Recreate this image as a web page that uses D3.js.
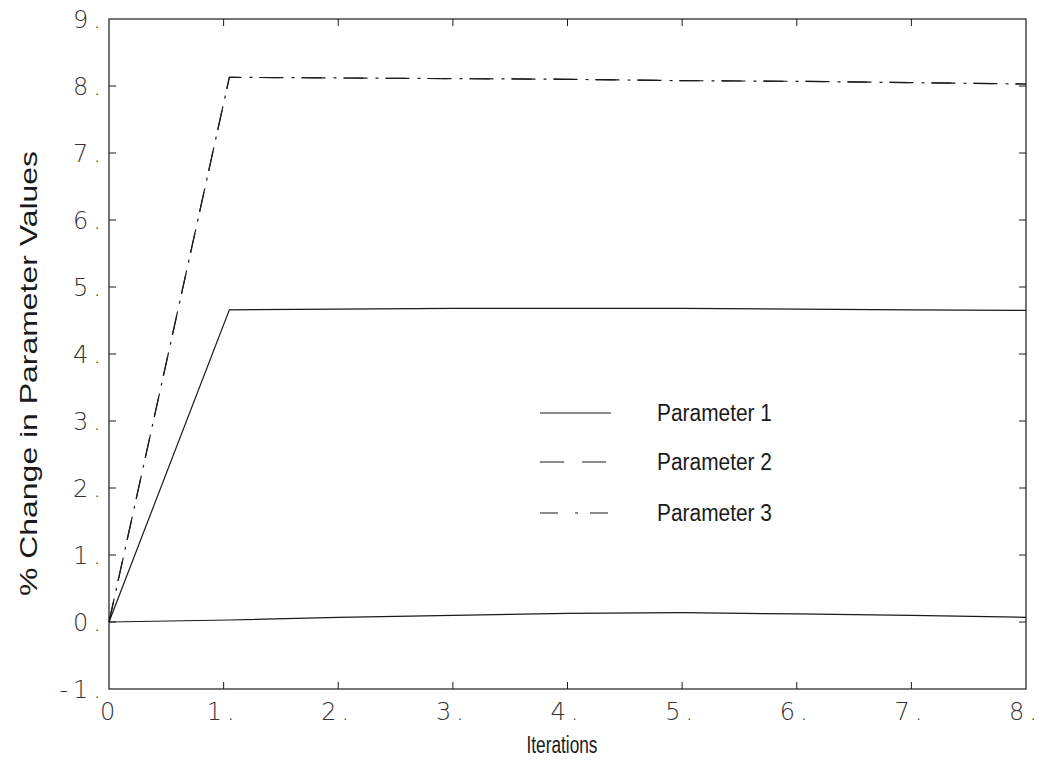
<!DOCTYPE html>
<html><head><meta charset="utf-8">
<script src="https://cdn.jsdelivr.net/npm/d3@7"></script>
<style>body{margin:0;background:#fff}</style>
</head><body>
<svg id="chart" width="1040" height="760"></svg>
<script>
// ---- data ----
const iterations = [0, 1.05, 2, 3, 4, 5, 6, 7, 8];
const param1 = [0, 4.66, 4.67, 4.68, 4.68, 4.68, 4.67, 4.66, 4.65];
const param2 = [0, 8.13, 8.12, 8.11, 8.10, 8.08, 8.07, 8.05, 8.03];
const param3 = [0, 8.13, 8.12, 8.11, 8.10, 8.08, 8.07, 8.05, 8.03];
const baseline = [0, 0.03, 0.07, 0.10, 0.13, 0.14, 0.12, 0.10, 0.07];
const xTicks = [0, 1, 2, 3, 4, 5, 6, 7, 8];
const yTicks = [-1, 0, 1, 2, 3, 4, 5, 6, 7, 8, 9];
const xTickLabels = ["0", "1.", "2.", "3.", "4.", "5.", "6.", "7.", "8."];
const yTickLabels = ["-1.", "0.", "1.", "2.", "3.", "4.", "5.", "6.", "7.", "8.", "9."];
const legendNames = ["Parameter 1", "Parameter 2", "Parameter 3"];

// ---- layout ----
const svg = d3.select("#chart");
const L = 109, R = 1026, T = 19, B = 689;
const x = d3.scaleLinear().domain([0, 8]).range([L, R]);
const y = d3.scaleLinear().domain([-1, 9]).range([B, T]);
const ink = "#1a1a1a";
const tickFont = "'DejaVu Sans', sans-serif";
const textFont = "'Liberation Sans Narrow', 'Liberation Sans', Arial, sans-serif";

// frame
svg.append("rect").attr("x", L).attr("y", T).attr("width", R - L).attr("height", B - T)
  .attr("fill", "none").attr("stroke", ink).attr("stroke-width", 1.2);

// ticks (inward)
const tl = 7;
const gx = svg.append("g");
xTicks.slice(1, -1).forEach(v => {
  gx.append("line").attr("x1", x(v)).attr("x2", x(v)).attr("y1", B).attr("y2", B - tl).attr("stroke", ink).attr("stroke-width", 1);
  gx.append("line").attr("x1", x(v)).attr("x2", x(v)).attr("y1", T).attr("y2", T + tl).attr("stroke", ink).attr("stroke-width", 1);
});
yTicks.slice(1, -1).forEach(v => {
  gx.append("line").attr("x1", L).attr("x2", L + tl).attr("y1", y(v)).attr("y2", y(v)).attr("stroke", ink).attr("stroke-width", 1);
  gx.append("line").attr("x1", R).attr("x2", R - tl).attr("y1", y(v)).attr("y2", y(v)).attr("stroke", ink).attr("stroke-width", 1);
});

// label helper: digits, then the trailing dot spaced apart
function spacedLabel(sel, label) {
  const hasDot = label.endsWith(".");
  const body = hasDot ? label.slice(0, -1) : label;
  sel.append("tspan").attr("letter-spacing", 5).text(body.slice(0, -1));
  sel.append("tspan").text(body.slice(-1));
  if (hasDot) sel.append("tspan").attr("dx", 5).text(".");
}

// y tick labels
svg.append("g").selectAll("text").data(yTicks).join("text")
  .attr("x", L - 8).attr("y", d => y(d) + 9)
  .attr("text-anchor", "end")
  .attr("font-family", tickFont).attr("font-weight", 200).attr("font-size", 24).attr("fill", "#333")
  .each(function (d, i) { spacedLabel(d3.select(this), yTickLabels[i]); });

// x tick labels
svg.append("g").selectAll("text").data(xTicks).join("text")
  .attr("x", (d, i) => i === 0 ? x(d) - 9 : x(d) - 17)
  .attr("y", B + 31)
  .attr("text-anchor", "start")
  .attr("font-family", tickFont).attr("font-weight", 200).attr("font-size", 24).attr("fill", "#333")
  .each(function (d, i) { spacedLabel(d3.select(this), xTickLabels[i]); });

// axis titles
svg.append("text").attr("transform", `translate(37, ${(150 + 597) / 2}) rotate(-90)`)
  .attr("text-anchor", "middle").attr("font-family", textFont).attr("font-size", 24).attr("fill", ink)
  .attr("textLength", 445).attr("lengthAdjust", "spacingAndGlyphs")
  .text("% Change in Parameter Values");
svg.append("text").attr("x", 562).attr("y", 753)
  .attr("text-anchor", "middle").attr("font-family", textFont).attr("font-size", 23).attr("fill", ink)
  .attr("textLength", 71).attr("lengthAdjust", "spacingAndGlyphs")
  .text("Iterations");

// lines
const line = d3.line().x((d, i) => x(iterations[i])).y(d => y(d));
const dashP2 = "24,18", dashP3 = "20,12,3,7";
const series = [
  { vals: baseline, dash: null },
  { vals: param1, dash: null },
  { vals: param2, dash: dashP2 },
  { vals: param3, dash: dashP3 }
];
svg.append("g").selectAll("path").data(series).join("path")
  .attr("d", d => line(d.vals))
  .attr("fill", "none").attr("stroke", ink).attr("stroke-width", 1.2)
  .attr("stroke-dasharray", d => d.dash);

// legend
const legendDash = [null, "24,18", "18,17,3,12"];
const legendY = [413, 462, 513];
const lg = svg.append("g");
legendNames.forEach((name, i) => {
  lg.append("line").attr("x1", 540).attr("x2", 611).attr("y1", legendY[i]).attr("y2", legendY[i])
    .attr("stroke", ink).attr("stroke-width", 1.2).attr("stroke-dasharray", legendDash[i]);
  lg.append("text").attr("x", 657).attr("y", legendY[i] + 8)
    .attr("font-family", textFont).attr("font-size", 23).attr("fill", ink)
    .attr("textLength", 115).attr("lengthAdjust", "spacingAndGlyphs")
    .text(name);
});
</script>
</body></html>
